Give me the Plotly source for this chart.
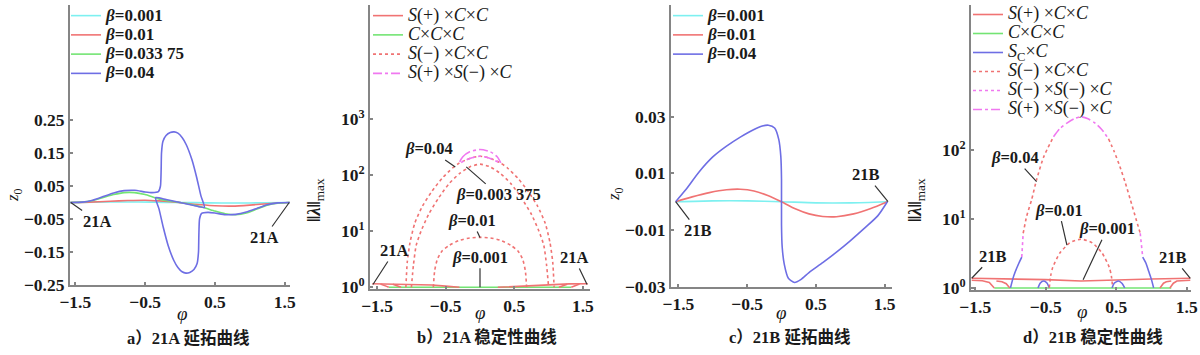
import plotly.graph_objects as go

W, H = 1200, 355

# ---------------- data ----------------
# Panel a: continuation curves of 21A (phi, z0)
PHI_A1 = [-1.571, -1.2, -0.8, -0.4, 0.0, 0.4, 0.8, 1.2, 1.571]
Z_A1 = [0, 0.001, 0.0015, 0.001, 0, -0.001, -0.0015, -0.001, 0]
PHI_A2 = [-1.571, -1.3, -1.0, -0.75, -0.5, -0.3, -0.1, 0.1, 0.3, 0.5, 0.75, 1.0, 1.3, 1.571]
Z_A2 = [0, 0.001, 0.004, 0.006, 0.007, 0.005, 0.002, -0.003, -0.007, -0.01, -0.011, -0.008, -0.003, 0]
PHI_A3 = [-1.571, -1.4, -1.25, -1.1, -0.95, -0.8, -0.65, -0.5, -0.35, -0.2, 0.0, 0.2, 0.35, 0.5, 0.65, 0.8, 0.95, 1.1, 1.25, 1.4, 1.571]
Z_A3 = [0, 0.001, 0.006, 0.015, 0.024, 0.03, 0.03, 0.024, 0.014, 0.006, 0, -0.008, -0.016, -0.026, -0.034, -0.037, -0.032, -0.02, -0.008, -0.002, 0]
PHI_A4 = [-1.571, -1.4, -1.25, -1.1, -0.95, -0.8, -0.65, -0.5, -0.4, -0.31, -0.28, -0.27, -0.265, -0.245, -0.2,
          -0.14, -0.085, -0.03, 0.03, 0.09, 0.17, 0.24, 0.3, 0.35, 0.2, 0.0, -0.2, -0.35, -0.3, -0.24, -0.17,
          -0.09, -0.03, 0.03, 0.085, 0.14, 0.2, 0.245, 0.265, 0.27, 0.28, 0.31, 0.4, 0.5, 0.65, 0.8, 0.95,
          1.1, 1.25, 1.4, 1.571]
Z_A4 = [0, 0.001, 0.007, 0.018, 0.029, 0.036, 0.037, 0.032, 0.03, 0.033, 0.05, 0.1, 0.15, 0.185, 0.203,
        0.212, 0.214, 0.21, 0.197, 0.175, 0.13, 0.075, 0.02, -0.015, -0.009, 0.0, 0.009, 0.015, -0.02, -0.075, -0.13,
        -0.175, -0.197, -0.21, -0.214, -0.212, -0.203, -0.185, -0.15, -0.1, -0.05, -0.033, -0.03, -0.032, -0.037, -0.036, -0.029,
        -0.018, -0.007, -0.001, 0]
BETA_A = ["0.001", "0.01", "0.033 75", "0.04"]

# Panel b: stability of 21A (phi, ||lambda||max)
PHI_B_SP_L = [-1.57, -1.3, -1.0, -0.7, -0.5, -0.3]
LAM_B_SP_L = [1.16, 1.15, 1.13, 1.1, 1.05, 1.0]
PHI_B_SP_R = [0.26, 0.5, 0.8, 1.1, 1.3, 1.57]
LAM_B_SP_R = [1.0, 1.04, 1.09, 1.12, 1.15, 1.16]
PHI_B_SP_D1 = [-1.45, -1.4, -1.36, -1.33]
LAM_B_SP_D1 = [1.15, 1.1, 1.04, 1.0]
PHI_B_SP_D2 = [-1.27, -1.22, -1.18, -1.15]
LAM_B_SP_D2 = [1.14, 1.09, 1.03, 1.0]
PHI_B_SP_D3 = [1.15, 1.18, 1.22, 1.27]
LAM_B_SP_D3 = [1.0, 1.03, 1.09, 1.14]
PHI_B_SP_D4 = [1.33, 1.36, 1.4, 1.45]
LAM_B_SP_D4 = [1.0, 1.04, 1.1, 1.15]
PHI_B_CCC = [-1.33, 1.33]
LAM_B_CCC = [1.0, 1.0]
PHI_B_SM_04 = [-1.08, -1.06, -1.02, -0.95, -0.84, -0.7, -0.55, -0.4, -0.3, -0.15, 0, 0.15, 0.3, 0.4, 0.55, 0.7, 0.84, 0.95, 1.02, 1.06, 1.08]
LAM_B_SM_04 = [1, 2.8, 6.3, 14, 28, 52, 89, 135, 166, 200, 219, 200, 166, 135, 89, 52, 28, 14, 6.3, 2.8, 1]
PHI_B_SM_03 = [-1.0, -0.97, -0.93, -0.86, -0.75, -0.6, -0.45, -0.3, -0.15, 0, 0.15, 0.3, 0.45, 0.6, 0.75, 0.86, 0.93, 0.97, 1.0]
LAM_B_SM_03 = [1, 2.5, 5.6, 10, 20, 40, 71, 107, 141, 158, 141, 107, 71, 40, 20, 10, 5.6, 2.5, 1]
PHI_B_SM_01 = [-0.68, -0.66, -0.62, -0.55, -0.45, -0.3, -0.15, 0, 0.15, 0.3, 0.45, 0.55, 0.62, 0.66, 0.68]
LAM_B_SM_01 = [1, 2, 3.2, 4.5, 5.6, 6.9, 7.6, 7.8, 7.6, 6.9, 5.6, 4.5, 3.2, 2, 1]
PHI_B_SPSM = [-0.3, -0.25, -0.15, 0, 0.15, 0.25, 0.3, 0.15, 0, -0.15, -0.3]
LAM_B_SPSM = [166, 214, 263, 288, 263, 214, 166, 200, 219, 200, 166]

# Panel c: continuation curves of 21B
PHI_C1 = [-1.54, -1.0, -0.5, 0.0, 0.5, 1.0, 1.54]
Z_C1 = [0, 0.0003, 0.0003, 0, -0.0004, -0.0004, 0]
PHI_C2 = [-1.54, -1.3, -1.05, -0.8, -0.6, -0.4, -0.2, 0, 0.2, 0.4, 0.6, 0.8, 1.05, 1.3, 1.54]
Z_C2 = [0, 0.0017, 0.0032, 0.0042, 0.0044, 0.0038, 0.0022, 0, -0.0025, -0.0043, -0.0052, -0.0053, -0.0043, -0.0024, 0]
PHI_C3 = [-1.54, -1.4, -1.2, -1.0, -0.8, -0.6, -0.4, -0.28, -0.19, -0.1, -0.04, -0.01, 0.0, 0.0, 0.01, 0.04,
          0.1, 0.19, 0.28, 0.4, 0.6, 0.8, 1.0, 1.2, 1.4, 1.54]
Z_C3 = [0, 0.004, 0.0105, 0.0158, 0.0196, 0.0228, 0.0255, 0.0267, 0.027, 0.026, 0.022, 0.016, 0.008, -0.008, -0.016, -0.022,
        -0.027, -0.0285, -0.0275, -0.025, -0.0215, -0.0178, -0.0138, -0.0095, -0.005, 0]
BETA_C = ["0.001", "0.01", "0.04"]

# Panel d: stability of 21B
PHI_D_SP = [-1.55, -1.0, -0.5, 0, 0.5, 1.0, 1.55]
LAM_D_SP = [1.38, 1.35, 1.32, 1.26, 1.32, 1.35, 1.38]
PHI_D_SP_D1 = [-1.55, -1.4, -1.3, -1.26, -1.23]
LAM_D_SP_D1 = [1.29, 1.27, 1.2, 1.1, 1.0]
PHI_D_SP_D2 = [-1.2, -1.12, -1.06, -1.03, -1.01]
LAM_D_SP_D2 = [1.26, 1.23, 1.15, 1.07, 1.0]
PHI_D_SP_D3 = [1.12, 1.14, 1.17, 1.21, 1.28]
LAM_D_SP_D3 = [1.0, 1.07, 1.17, 1.23, 1.26]
PHI_D_SP_D4 = [1.26, 1.28, 1.31, 1.36, 1.45, 1.55]
LAM_D_SP_D4 = [1.0, 1.07, 1.17, 1.26, 1.28, 1.29]
PHI_D_CCC = [-1.23, 1.28]
LAM_D_CCC = [1.0, 1.0]
PHI_D_SC_L = [-1.0, -0.97, -0.93, -0.88, -0.84]
LAM_D_SC_L = [1, 1.32, 1.74, 2.3, 2.8]
PHI_D_SC_R = [0.875, 0.92, 0.96, 1.0, 1.03]
LAM_D_SC_R = [2.8, 2.3, 1.74, 1.32, 1]
PHI_D_SC_B1 = [-0.61, -0.58, -0.53, -0.48, -0.45]
LAM_D_SC_B1 = [1, 1.17, 1.26, 1.17, 1]
PHI_D_SC_B2 = [0.44, 0.47, 0.53, 0.58, 0.62]
LAM_D_SC_B2 = [1, 1.17, 1.26, 1.17, 1]
PHI_D_SM_L = [-0.82, -0.77, -0.70, -0.63, -0.53, -0.39]
LAM_D_SM_L = [6.2, 11, 19, 37, 79, 155]
PHI_D_SM_R = [0.39, 0.47, 0.55, 0.63, 0.70, 0.78, 0.84]
LAM_D_SM_R = [145, 95, 58, 33, 19, 10, 6.2]
PHI_D_SM_01 = [-0.45, -0.43, -0.4, -0.3, -0.16, 0, 0.16, 0.3, 0.4, 0.43, 0.45]
LAM_D_SM_01 = [1, 1.5, 2.0, 3.2, 4.5, 5.1, 4.5, 3.2, 2.0, 1.5, 1]
PHI_D_SMSM_L = [-0.84, -0.835, -0.82]
LAM_D_SMSM_L = [2.8, 4.2, 6.2]
PHI_D_SMSM_R = [0.84, 0.86, 0.875]
LAM_D_SMSM_R = [6.2, 4.2, 2.8]
PHI_D_SPSM = [-0.39, -0.3, -0.2, -0.1, 0, 0.1, 0.2, 0.3, 0.39]
LAM_D_SPSM = [155, 204, 245, 282, 302, 282, 245, 195, 145]

X_TICKS = [-1.5, -0.5, 0.5, 1.5]
X_TICKTEXT = ["\u22121.5", "\u22120.5", "0.5", "1.5"]
A_YTICKS = [0.25, 0.15, 0.05, -0.05, -0.15, -0.25]
A_YTICKTEXT = ["0.25", "0.15", "0.05", "\u22120.05", "\u22120.15", "\u22120.25"]
C_YTICKS = [0.03, 0.01, -0.01, -0.03]
C_YTICKTEXT = ["0.03", "0.01", "\u22120.01", "\u22120.03"]
B_YTICKS = [1, 10, 100, 1000]
B_YTICKTEXT = ["10<sup>0</sup>", "10<sup>1</sup>", "10<sup>2</sup>", "10<sup>3</sup>"]
D_YTICKS = [1, 10, 100]
D_YTICKTEXT = ["10<sup>0</sup>", "10<sup>1</sup>", "10<sup>2</sup>"]
CAPTIONS = ["a\uff0921A \u5ef6\u62d3\u66f2\u7ebf", "b\uff0921A \u7a33\u5b9a\u6027\u66f2\u7ebf",
            "c\uff0921B \u5ef6\u62d3\u66f2\u7ebf", "d\uff0921B \u7a33\u5b9a\u6027\u66f2\u7ebf"]

# ---------------- style ----------------
CYAN = "rgb(125,240,240)"
RED = "rgb(240,115,115)"
GREEN = "rgb(115,228,115)"
BLUE = "rgb(110,110,228)"
MAG = "rgb(240,120,240)"
LW = 1.6
SERIF = "Liberation Serif, Times New Roman, serif"
CJK = "Liberation Serif, Noto Sans CJK SC, serif"
AXC = "#858585"
TXT = "#1a1a1a"


def join(*segs):
    xs, ys = [], []
    for sx, sy in segs:
        xs += list(sx) + [None]
        ys += list(sy) + [None]
    return xs[:-1], ys[:-1]


def fx(px):
    return px / W


def fy(px):
    return 1 - px / H


fig = go.Figure()

# panel a
for phi, z, b, col in [(PHI_A1, Z_A1, BETA_A[0], CYAN), (PHI_A2, Z_A2, BETA_A[1], RED),
                       (PHI_A3, Z_A3, BETA_A[2], GREEN), (PHI_A4, Z_A4, BETA_A[3], BLUE)]:
    fig.add_trace(go.Scatter(x=phi, y=z, mode="lines",
                             line=dict(color=col, width=LW, shape="spline", smoothing=0.5),
                             name='<span style="font-size:17px"><b><i>\u03b2</i>=%s</b></span>' % b,
                             xaxis="x", yaxis="y", legend="legend"))

# panel b
LB = dict(xaxis="x2", yaxis="y2", legend="legend2", mode="lines")
SPAN_B = '<span style="font-size:18px">%s</span>'
xs, ys = join((PHI_B_CCC, LAM_B_CCC))
fig.add_trace(go.Scatter(x=xs, y=ys, line=dict(color=GREEN, width=LW), legendrank=2,
                         name=SPAN_B % '<i>C</i>\u00d7<i>C</i>\u00d7<i>C</i>', **LB))
xs, ys = join((PHI_B_SP_L, LAM_B_SP_L), (PHI_B_SP_R, LAM_B_SP_R), (PHI_B_SP_D1, LAM_B_SP_D1),
              (PHI_B_SP_D2, LAM_B_SP_D2), (PHI_B_SP_D3, LAM_B_SP_D3), (PHI_B_SP_D4, LAM_B_SP_D4))
fig.add_trace(go.Scatter(x=xs, y=ys, line=dict(color=RED, width=LW), legendrank=1,
                         name=SPAN_B % '<i>S</i>(+) \u00d7<i>C</i>\u00d7<i>C</i>', **LB))
xs, ys = join((PHI_B_SM_04, LAM_B_SM_04), (PHI_B_SM_03, LAM_B_SM_03), (PHI_B_SM_01, LAM_B_SM_01))
fig.add_trace(go.Scatter(x=xs, y=ys, line=dict(color=RED, width=LW, dash="dot", shape="spline", smoothing=0.6),
                         legendrank=3, name=SPAN_B % '<i>S</i>(\u2212) \u00d7<i>C</i>\u00d7<i>C</i>', **LB))
fig.add_trace(go.Scatter(x=PHI_B_SPSM, y=LAM_B_SPSM,
                         line=dict(color=MAG, width=LW, dash="dashdot", shape="spline", smoothing=0.6),
                         legendrank=4, name=SPAN_B % '<i>S</i>(+) \u00d7<i>S</i>(\u2212) \u00d7<i>C</i>', **LB))

# panel c
for phi, z, b, col in [(PHI_C1, Z_C1, BETA_C[0], CYAN), (PHI_C2, Z_C2, BETA_C[1], RED),
                       (PHI_C3, Z_C3, BETA_C[2], BLUE)]:
    fig.add_trace(go.Scatter(x=phi, y=z, mode="lines",
                             line=dict(color=col, width=LW, shape="spline", smoothing=0.7),
                             name='<span style="font-size:17px"><b><i>\u03b2</i>=%s</b></span>' % b,
                             xaxis="x3", yaxis="y3", legend="legend3"))

# panel d
LD = dict(xaxis="x4", yaxis="y4", legend="legend4", mode="lines")
SPAN_D = '<span style="font-size:18px">%s</span>'
xs, ys = join((PHI_D_CCC, LAM_D_CCC))
fig.add_trace(go.Scatter(x=xs, y=ys, line=dict(color=GREEN, width=LW), legendrank=2,
                         name=SPAN_D % '<i>C</i>\u00d7<i>C</i>\u00d7<i>C</i>', **LD))
xs, ys = join((PHI_D_SP, LAM_D_SP), (PHI_D_SP_D1, LAM_D_SP_D1), (PHI_D_SP_D2, LAM_D_SP_D2),
              (PHI_D_SP_D3, LAM_D_SP_D3), (PHI_D_SP_D4, LAM_D_SP_D4))
fig.add_trace(go.Scatter(x=xs, y=ys, line=dict(color=RED, width=LW), legendrank=1,
                         name=SPAN_D % '<i>S</i>(+) \u00d7<i>C</i>\u00d7<i>C</i>', **LD))
xs, ys = join((PHI_D_SC_L, LAM_D_SC_L), (PHI_D_SC_R, LAM_D_SC_R), (PHI_D_SC_B1, LAM_D_SC_B1), (PHI_D_SC_B2, LAM_D_SC_B2))
fig.add_trace(go.Scatter(x=xs, y=ys, line=dict(color=BLUE, width=LW, shape="spline", smoothing=0.6), legendrank=3,
                         name=SPAN_D % '<i>S</i><sub>C</sub>\u00d7<i>C</i>', **LD))
xs, ys = join((PHI_D_SM_L, LAM_D_SM_L), (PHI_D_SM_R, LAM_D_SM_R), (PHI_D_SM_01, LAM_D_SM_01))
fig.add_trace(go.Scatter(x=xs, y=ys, line=dict(color=RED, width=LW, dash="dot", shape="spline", smoothing=0.6), legendrank=4,
                         name=SPAN_D % '<i>S</i>(\u2212) \u00d7<i>C</i>\u00d7<i>C</i>', **LD))
xs, ys = join((PHI_D_SMSM_L, LAM_D_SMSM_L), (PHI_D_SMSM_R, LAM_D_SMSM_R))
fig.add_trace(go.Scatter(x=xs, y=ys, line=dict(color=MAG, width=LW, dash="dot"), legendrank=5,
                         name=SPAN_D % '<i>S</i>(\u2212) \u00d7<i>S</i>(\u2212) \u00d7<i>C</i>', **LD))
fig.add_trace(go.Scatter(x=PHI_D_SPSM, y=LAM_D_SPSM,
                         line=dict(color=MAG, width=LW, dash="dashdot", shape="spline", smoothing=0.6),
                         legendrank=6, name=SPAN_D % '<i>S</i>(+) \u00d7<i>S</i>(\u2212) \u00d7<i>C</i>', **LD))

# ---------------- axes ----------------
AX = dict(showline=True, linecolor=AXC, linewidth=2, ticks="inside", ticklen=3, tickcolor=AXC, tickwidth=1.5,
          showgrid=False, zeroline=False, mirror=False, automargin=False,
          tickfont=dict(family=SERIF, size=17.5, color=TXT, weight="bold"))

panels = [  # (xdomain px, ydomain px, xrange, yrange, ytype, tickvals, ticktext)
    ((70, 290), (5, 285), [-1.576, 1.576], [-0.25, 0.5985], "linear", A_YTICKS, A_YTICKTEXT),
    ((370, 590), (5, 289), [-1.603, 1.603], [-0.03, 5.04], "log", B_YTICKS, B_YTICKTEXT),
    ((671, 892), (5, 287.3), [-1.608, 1.608], [-0.0302, 0.0694], "linear", C_YTICKS, C_YTICKTEXT),
    ((971, 1191), (5, 290), [-1.56, 1.56], [-0.03, 4.10], "log", D_YTICKS, D_YTICKTEXT),
]
lay = {}
for i, (xd, yd, xr, yr, yt, ytv, ytt) in enumerate(panels):
    s = "" if i == 0 else str(i + 1)
    lay["xaxis" + s] = dict(AX, domain=[fx(xd[0]), fx(xd[1])], range=xr, anchor="y" + s,
                            tickvals=X_TICKS, ticktext=X_TICKTEXT)
    lay["yaxis" + s] = dict(AX, domain=[fy(yd[1]), fy(yd[0])], range=yr, type=yt, anchor="x" + s,
                            tickvals=ytv, ticktext=ytt)

LEG = dict(bgcolor="rgba(0,0,0,0)", borderwidth=0, xanchor="left", yanchor="top",
           font=dict(family=SERIF, size=12.5, color=TXT), itemclick=False, itemwidth=30)
lay["legend"] = dict(LEG, x=fx(66), y=fy(1))
lay["legend2"] = dict(LEG, x=fx(368), y=fy(1))
lay["legend3"] = dict(LEG, x=fx(668), y=fy(1))
lay["legend4"] = dict(LEG, x=fx(968), y=1.0, font=dict(family=SERIF, size=11.5, color=TXT))

# ---------------- annotations ----------------
ann = []
LBL = dict(family=SERIF, size=16.5, color=TXT)


def lead(xref, yref, x, y, ax, ay, text):
    ann.append(dict(xref=xref, yref=yref, x=x, y=y, ax=ax, ay=ay, text=text, showarrow=True,
                    arrowhead=0, arrowwidth=1.2, arrowcolor="#333", standoff=0, font=LBL, borderpad=1))


B = lambda v: "<b><i>\u03b2</i>=%s</b>" % v
# panel a
lead("x", "y", -1.565, 0.0, 27, 19, "<b>21A</b>")
lead("x", "y", 1.565, 0.0, -25, 35, "<b>21A</b>")
# panel b (log axis -> log10 values)
lead("x2", "y2", -0.36, 2.15, -26, -18, B("0.04"))
lead("x2", "y2", -0.2, 2.15, 32, 28, B("0.003 375"))
lead("x2", "y2", 0.0, 0.89, -8, -17, B("0.01"))
lead("x2", "y2", 0.0, 0.0, 0, -30, B("0.001"))
lead("x2", "y2", -1.56, 0.05, 22, -34, "<b>21A</b>")
lead("x2", "y2", 1.56, 0.05, -13, -27, "<b>21A</b>")
# panel c
lead("x3", "y3", 1.55, 0.0, -22, -27, "<b>21B</b>")
lead("x3", "y3", -1.54, 0.0, 22, 29, "<b>21B</b>")
# panel d
lead("x4", "y4", -0.63, 1.54, -22, -24, B("0.04"))
lead("x4", "y4", -0.2, 0.62, -8, -35, B("0.01"))
lead("x4", "y4", 0.03, 0.12, 24, -51, B("0.001"))
lead("x4", "y4", -1.55, 0.14, 21, -22, "<b>21B</b>")
lead("x4", "y4", 1.55, 0.14, -17, -21, "<b>21B</b>")

CENTER = dict(xref="paper", yref="paper", showarrow=False, xanchor="center", yanchor="middle")
# axis titles
for xp, yp in [(182, 313), (480, 312), (782, 312), (1082, 311)]:
    ann.append(dict(CENTER, x=fx(xp), y=fy(yp), text="<i>\u03c6</i>",
                    font=dict(family=SERIF, size=19, color=TXT)))
for xp, yp in [(14, 195), (615, 194)]:
    ann.append(dict(CENTER, x=fx(xp), y=fy(yp), text="<i>z</i><sub>0</sub>", textangle=-90,
                    font=dict(family=SERIF, size=17, color=TXT)))
for xp, yp in [(315, 200), (916, 200)]:
    ann.append(dict(CENTER, x=fx(xp), y=fy(yp), text="<b>\u2016</b><b><i>\u03bb</i></b><b>\u2016</b><sub>max</sub>",
                    textangle=-90, font=dict(family=SERIF, size=19, color=TXT)))
# captions
for (xp, yp), cap in zip([(188, 338), (487, 337), (790, 337), (1093, 337)], CAPTIONS):
    ann.append(dict(CENTER, x=fx(xp), y=fy(yp), text="<b>%s</b>" % cap,
                    font=dict(family=CJK, size=16.5, color=TXT)))

fig.update_layout(width=W, height=H, margin=dict(l=0, r=0, t=0, b=0), paper_bgcolor="white",
                  plot_bgcolor="white", showlegend=True, annotations=ann, **lay)
fig.write_html("out.html")
